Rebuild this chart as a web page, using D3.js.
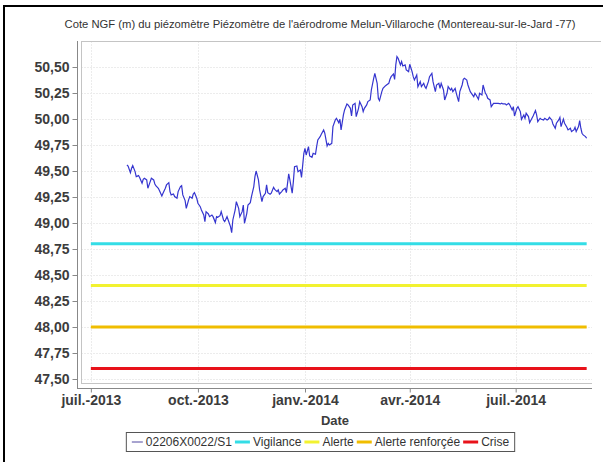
<!DOCTYPE html>
<html><head><meta charset="utf-8">
<script src="https://cdn.jsdelivr.net/npm/d3@7"></script>
<style>body{margin:0;background:#fff}svg{display:block;font-family:"Liberation Sans",Arial,sans-serif}</style>
</head><body>
<svg id="c" width="608" height="462"></svg>
<script>
const titleText = "Cote NGF (m) du piézomètre Piézomètre de l'aérodrome Melun-Villaroche (Montereau-sur-le-Jard -77)";
const seriesName = "02206X0022/S1";
const dates = ["2013-08-01","2013-08-02","2013-08-04","2013-08-05","2013-08-06","2013-08-08","2013-08-09","2013-08-11","2013-08-12","2013-08-14","2013-08-15","2013-08-16","2013-08-18","2013-08-19","2013-08-21","2013-08-22","2013-08-24","2013-08-25","2013-08-26","2013-08-28","2013-08-29","2013-08-31",
"2013-09-01","2013-09-03","2013-09-04","2013-09-06","2013-09-07","2013-09-08","2013-09-10","2013-09-11","2013-09-13","2013-09-14","2013-09-16","2013-09-17","2013-09-18","2013-09-20","2013-09-21","2013-09-23","2013-09-24","2013-09-26","2013-09-27","2013-09-28","2013-09-30",
"2013-10-01","2013-10-03","2013-10-04","2013-10-06","2013-10-07","2013-10-08","2013-10-10","2013-10-11","2013-10-13","2013-10-14","2013-10-16","2013-10-17","2013-10-18","2013-10-20","2013-10-21","2013-10-23","2013-10-24","2013-10-26","2013-10-27","2013-10-29","2013-10-30","2013-10-31",
"2013-11-02","2013-11-03","2013-11-05","2013-11-06","2013-11-08","2013-11-09","2013-11-10","2013-11-12","2013-11-13","2013-11-15","2013-11-16","2013-11-18","2013-11-19","2013-11-20","2013-11-22","2013-11-23","2013-11-25","2013-11-26","2013-11-28","2013-11-29","2013-11-30",
"2013-12-02","2013-12-03","2013-12-05","2013-12-06","2013-12-08","2013-12-09","2013-12-10","2013-12-12","2013-12-13","2013-12-15","2013-12-16","2013-12-18","2013-12-19","2013-12-21","2013-12-22","2013-12-23","2013-12-25","2013-12-26","2013-12-28","2013-12-29","2013-12-31",
"2014-01-01","2014-01-02","2014-01-04","2014-01-05","2014-01-07","2014-01-08","2014-01-10","2014-01-11","2014-01-12","2014-01-14","2014-01-15","2014-01-17","2014-01-18","2014-01-20","2014-01-21","2014-01-22","2014-01-24","2014-01-25","2014-01-27","2014-01-28","2014-01-30","2014-01-31",
"2014-02-01","2014-02-03","2014-02-04","2014-02-06","2014-02-07","2014-02-09","2014-02-10","2014-02-11","2014-02-13","2014-02-14","2014-02-16","2014-02-17","2014-02-19","2014-02-20","2014-02-21","2014-02-23","2014-02-24","2014-02-26","2014-02-27",
"2014-03-01","2014-03-02","2014-03-04","2014-03-05","2014-03-06","2014-03-08","2014-03-09","2014-03-11","2014-03-12","2014-03-14","2014-03-15","2014-03-16","2014-03-18","2014-03-19","2014-03-20","2014-03-21","2014-03-22","2014-03-24","2014-03-25","2014-03-26","2014-03-28","2014-03-29","2014-03-31",
"2014-04-01","2014-04-03","2014-04-04","2014-04-05","2014-04-07","2014-04-08","2014-04-10","2014-04-11","2014-04-13","2014-04-14","2014-04-15","2014-04-17","2014-04-18","2014-04-20","2014-04-21","2014-04-23","2014-04-24","2014-04-26","2014-04-27","2014-04-28","2014-04-30",
"2014-05-01","2014-05-03","2014-05-04","2014-05-06","2014-05-07","2014-05-08","2014-05-10","2014-05-11","2014-05-13","2014-05-14","2014-05-16","2014-05-17","2014-05-18","2014-05-20","2014-05-21","2014-05-23","2014-05-24","2014-05-26","2014-05-27","2014-05-28","2014-05-30","2014-05-31",
"2014-06-02","2014-06-03","2014-06-05","2014-06-06","2014-06-07","2014-06-09","2014-06-10","2014-06-12","2014-06-13","2014-06-15","2014-06-16","2014-06-18","2014-06-19","2014-06-20","2014-06-22","2014-06-23","2014-06-25","2014-06-26","2014-06-28","2014-06-29","2014-06-30",
"2014-07-02","2014-07-03","2014-07-05","2014-07-06","2014-07-08","2014-07-09","2014-07-10","2014-07-12","2014-07-13","2014-07-15","2014-07-16","2014-07-18","2014-07-19","2014-07-20","2014-07-22","2014-07-23","2014-07-25","2014-07-26","2014-07-28","2014-07-29","2014-07-30",
"2014-08-01","2014-08-02","2014-08-04","2014-08-05","2014-08-07","2014-08-08","2014-08-09","2014-08-11","2014-08-12","2014-08-14","2014-08-15","2014-08-17","2014-08-18","2014-08-20","2014-08-21","2014-08-22","2014-08-24","2014-08-25","2014-08-26","2014-08-27","2014-08-28","2014-08-30","2014-08-31"];
const levels = [49.558,49.548,49.484,49.526,49.552,49.494,49.446,49.456,49.436,49.382,49.420,49.430,49.414,49.334,49.398,49.430,49.414,49.375,49.356,49.334,49.311,49.260,
49.286,49.334,49.366,49.388,49.302,49.270,49.279,49.254,49.238,49.302,49.350,49.359,49.270,49.215,49.141,49.222,49.254,49.238,49.279,49.292,49.238,
49.190,49.157,49.125,49.077,49.013,49.109,49.087,49.061,49.077,49.061,49.004,49.061,49.055,49.071,49.109,49.029,49.013,49.061,49.029,48.965,48.907,49.029,
49.125,49.205,49.141,49.061,49.109,49.173,48.997,49.093,49.173,49.196,49.254,49.350,49.446,49.500,49.414,49.318,49.205,49.254,49.286,49.366,49.292,
49.276,49.286,49.343,49.324,49.302,49.318,49.279,49.302,49.318,49.334,49.292,49.472,49.414,49.286,49.398,49.542,49.548,49.494,49.510,49.439,49.670,
49.718,49.654,49.734,49.645,49.632,49.670,49.661,49.734,49.798,49.830,49.853,49.895,49.863,49.741,49.766,49.750,49.766,49.927,49.991,50.007,49.965,49.997,
49.895,50.039,50.087,50.145,50.135,50.103,50.029,50.135,50.151,50.023,50.103,50.167,50.119,50.071,50.103,50.135,50.167,50.183,50.279,
50.391,50.439,50.343,50.199,50.177,50.263,50.295,50.318,50.327,50.343,50.382,50.407,50.433,50.380,50.520,50.600,50.584,50.520,50.552,50.510,50.520,50.472,50.456,
50.526,50.456,50.407,50.375,50.423,50.311,50.359,50.311,50.343,50.311,50.295,50.359,50.407,50.439,50.359,50.263,50.327,50.343,50.295,50.343,50.279,
50.183,50.247,50.311,50.279,50.295,50.263,50.295,50.247,50.167,50.263,50.327,50.382,50.391,50.375,50.327,50.263,50.247,50.215,50.247,50.231,50.189,50.247,
50.231,50.327,50.247,50.231,50.199,50.183,50.119,50.151,50.151,50.151,50.151,50.145,50.151,50.145,50.145,50.135,50.151,50.135,50.087,50.119,50.029,
50.103,50.119,50.071,49.997,50.039,50.007,50.055,50.023,49.965,50.007,50.029,50.081,50.039,49.975,50.007,49.997,49.991,50.007,49.991,49.997,50.016,
49.991,49.952,49.911,49.959,49.991,50.016,49.927,49.999,49.959,49.920,49.895,49.911,49.879,49.895,49.920,49.879,49.927,49.984,49.911,49.863,49.847,49.831,49.815];
const thresholdNames = ["Vigilance","Alerte","Alerte renforçée","Crise"];
const thresholdValues = [48.80, 48.40, 48.00, 47.60];
const thresholdColors = ["#33dde6","#f2f230","#f0bd00","#e8121a"];
const thresholdSpan = ["2013-07-01","2014-08-31"];
const xTickDates = ["2013-07-01","2013-10-01","2014-01-01","2014-04-01","2014-07-01"];
const xTickLabels = ["juil.-2013","oct.-2013","janv.-2014","avr.-2014","juil.-2014"];
const yTicks = [47.50,47.75,48.00,48.25,48.50,48.75,49.00,49.25,49.50,49.75,50.00,50.25,50.50];
const yTickLabels = ["47,50","47,75","48,00","48,25","48,50","48,75","49,00","49,25","49,50","49,75","50,00","50,25","50,50"];
const xAxisTitle = "Date";

const parse = d3.timeParse("%Y-%m-%d");
const svg = d3.select("#c");
const L = 81, R = 592, T = 41, B = 384;

// outer frame (left & top)
svg.append("line").attr("x1",4).attr("x2",4).attr("y1",5).attr("y2",462).attr("stroke","#000").attr("stroke-width",2);
svg.append("line").attr("x1",3).attr("x2",603).attr("y1",6).attr("y2",6).attr("stroke","#000").attr("stroke-width",2);

svg.append("text").attr("x",320).attr("y",28).attr("text-anchor","middle")
  .attr("font-size",11.25).attr("fill","#333").text(titleText);

const x = d3.scaleTime().domain([new Date(2013,5,22,13), new Date(2014,8,4,14)]).range([L,R]);
const y = d3.scaleLinear().domain([47.452,50.75]).range([B,T]);

// grid
const g = svg.append("g");
g.selectAll(".hg").data(yTicks).join("line").attr("x1",L).attr("x2",R)
  .attr("y1",d=>Math.round(y(d))+0.5).attr("y2",d=>Math.round(y(d))+0.5)
  .attr("stroke","#ececec").attr("stroke-dasharray","2,1");
g.selectAll(".vg").data(xTickDates).join("line").attr("y1",T).attr("y2",B)
  .attr("x1",d=>Math.round(x(parse(d)))+0.5).attr("x2",d=>Math.round(x(parse(d)))+0.5)
  .attr("stroke","#ececec").attr("stroke-dasharray","2,1");

// plot border
svg.append("line").attr("x1",L+0.5).attr("x2",L+0.5).attr("y1",T).attr("y2",B).attr("stroke","#c4c4c4");
svg.append("line").attr("x1",L).attr("x2",601).attr("y1",T+0.5).attr("y2",T+0.5).attr("stroke","#c4c4c4");
svg.append("line").attr("x1",L).attr("x2",R).attr("y1",B-0.5).attr("y2",B-0.5).attr("stroke","#c4c4c4");

// axes
const yAxis = d3.axisLeft(y).tickValues(yTicks).tickSize(5).tickFormat((d,i)=>yTickLabels[i]);
const ya = svg.append("g").attr("transform","translate(77.5,0)").call(yAxis);
ya.select(".domain").attr("d",`M0,${T}V388`).attr("stroke","#888");
ya.selectAll(".tick line").attr("stroke","#888");
ya.selectAll(".tick text").attr("font-size",14).attr("font-weight","bold").attr("fill","#3c3c3c")
  .attr("font-family","'Liberation Sans',Arial,sans-serif").attr("x",-8);

const xAxis = d3.axisBottom(x).tickValues(xTickDates.map(parse)).tickSize(4).tickFormat((d,i)=>xTickLabels[i]);
const xa = svg.append("g").attr("transform","translate(0,388.5)").call(xAxis);
xa.select(".domain").attr("d",`M77,0H${R}`).attr("stroke","#888");
xa.selectAll(".tick line").attr("stroke","#888");
xa.selectAll(".tick text").attr("font-size",14).attr("font-weight","bold").attr("fill","#3c3c3c")
  .attr("font-family","'Liberation Sans',Arial,sans-serif").attr("y",7);

svg.append("text").attr("x",335).attr("y",425).attr("text-anchor","middle")
  .attr("font-size",13).attr("font-weight","bold").attr("fill","#3c3c3c").text(xAxisTitle);

// thresholds
const span = thresholdSpan.map(parse);
svg.selectAll(".thr").data(thresholdValues).join("line")
  .attr("x1",x(span[0])).attr("x2",x(span[1]))
  .attr("y1",d=>y(d)).attr("y2",d=>y(d))
  .attr("stroke",(d,i)=>thresholdColors[i]).attr("stroke-width",3);

// series
const pts = dates.map((d,i)=>[parse(d),levels[i]]);
svg.append("path").datum(pts).attr("fill","none").attr("stroke","#3535cf").attr("stroke-width",1.2)
  .attr("d",d3.line().x(d=>x(d[0])).y(d=>y(d[1])));

// legend
const lg = svg.append("g");
const items = [{name:seriesName,color:"#5048a0",w:1}].concat(thresholdNames.map((n,i)=>({name:n,color:thresholdColors[i],w:3})));
let cx = 0;
const ly = 442;
items.forEach(it=>{
  const sw = it.w===1 ? 11 : 15;
  lg.append("line").attr("x1",cx).attr("x2",cx+sw).attr("y1",ly).attr("y2",ly).attr("stroke",it.color).attr("stroke-width",it.w);
  cx += sw + 3;
  const t = lg.append("text").attr("x",cx).attr("y",ly+4).attr("font-size",12).attr("fill","#333").text(it.name);
  cx += t.node().getComputedTextLength() + 3;
});
const totalW = cx;
const lx0 = 322 - totalW/2;
lg.attr("transform",`translate(${lx0},0)`);
svg.insert("rect","g").attr("x",lx0-5.5).attr("y",432.5).attr("width",totalW+8).attr("height",19)
  .attr("fill","none").attr("stroke","#555");
</script>
</body></html>
